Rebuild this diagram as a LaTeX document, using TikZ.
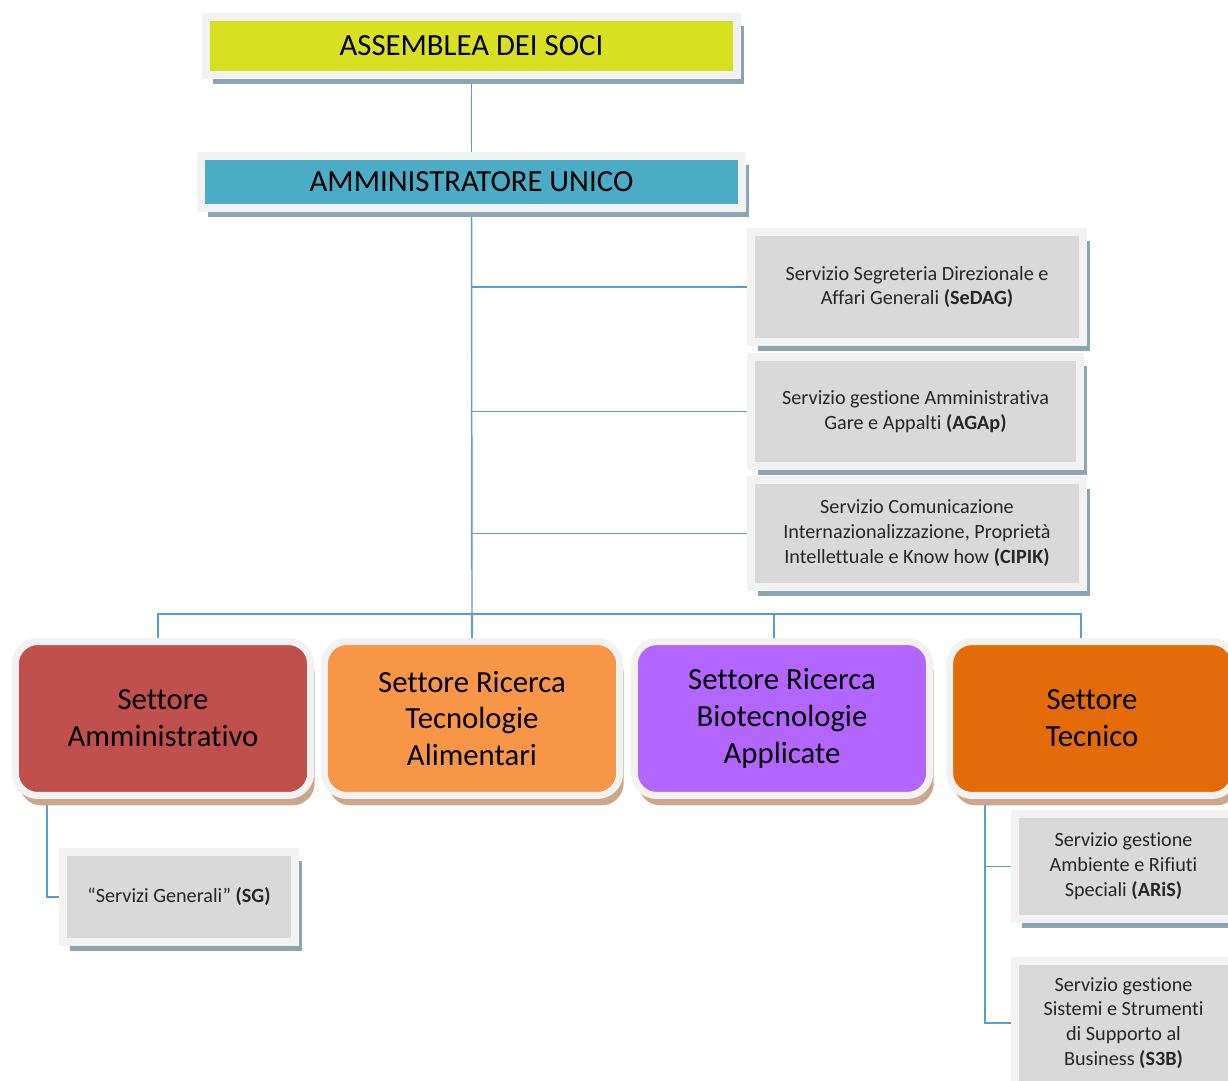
\documentclass[tikz,border=0pt]{standalone}
\usepackage{fontspec}
\setmainfont{Carlito}[Ligatures={NoCommon,NoContextual,NoRare}, Contextuals=NoAlternate]
\usetikzlibrary{shadows,backgrounds}
\definecolor{giallo}{HTML}{D7E021}
\definecolor{ottanio}{HTML}{4BACC6}
\definecolor{rosso}{HTML}{C0504D}
\definecolor{arancio}{HTML}{F79646}
\definecolor{viola}{HTML}{B266FF}
\definecolor{aranciosc}{HTML}{E36C09}
\definecolor{grigio}{HTML}{D9D9D9}
\definecolor{cornice}{HTML}{F2F2F2}
\definecolor{ombrablu}{HTML}{8DA5B0}
\definecolor{ombratan}{HTML}{CDA78D}
\definecolor{linea}{HTML}{5B9BD5}
\begin{document}
\begin{tikzpicture}[x=0.02cm, y=-0.02cm,
             vertice/.style = {draw=cornice, line width=0.16cm, inner sep=0pt, align=center,
                               font=\fontsize{17.5}{21}\selectfont,
                               drop shadow={shadow xshift=0.14cm, shadow yshift=-0.18cm, fill=ombrablu, opacity=1}},
             servizio/.style = {vertice, fill=grigio, text=black!85, font=\fontsize{11.5}{14.2}\selectfont},
             settore/.style = {draw=cornice, line width=0.14cm, rounded corners=0.45cm, inner sep=0pt,
                               align=center, minimum width=5.91cm, minimum height=3.08cm,
                               font=\fontsize{17.5}{21}\selectfont,
                               drop shadow={shadow xshift=0.08cm, shadow yshift=-0.2cm, fill=ombratan, opacity=1}},
             filo/.style = {draw=linea, line width=0.8pt}]
    \useasboundingbox (0,0) rectangle (1228,1081);
    \clip (0,0) rectangle (1228,1081);

    % Vertici
    \node[vertice, fill=giallo, minimum width=10.62cm, minimum height=1.16cm] (soci) at (471.5,46) {ASSEMBLEA DEI SOCI};
    \node[vertice, fill=ottanio, minimum width=10.84cm, minimum height=1.06cm] (au) at (471.5,182) {AMMINISTRATORE UNICO};

    % Servizi in staff
    \node[servizio, minimum width=6.64cm, minimum height=2.2cm] (sedag) at (917,287)
        {Servizio Segreteria Direzionale e\\Affari Generali \textbf{(SeDAG)}};
    \node[servizio, minimum width=6.58cm, minimum height=2.18cm] (agap) at (915.5,411.5)
        {Servizio gestione Amministrativa\\Gare e Appalti \textbf{(AGAp)}};
    \node[servizio, minimum width=6.64cm, minimum height=2.14cm] (cipik) at (917,533.5)
        {Servizio Comunicazione\\Internazionalizzazione, Proprietà\\Intellettuale e Know how \textbf{(CIPIK)}};

    % Settori
    \node[settore, fill=rosso] (setA) at (163,718.5) {Settore\\Amministrativo};
    \node[settore, fill=arancio] (setB) at (472,718.5) {Settore Ricerca\\Tecnologie\\Alimentari};
    \node[settore, fill=viola] (setC) at (782,718.5) {Settore Ricerca\\Biotecnologie\\Applicate};
    \node[settore, fill=aranciosc, minimum width=5.7cm] (setD) at (1092,718.5) {Settore\\Tecnico};

    % Servizi dei settori
    \node[servizio, minimum width=4.64cm, minimum height=1.8cm] (sg) at (179,897)
        {“Servizi Generali” \textbf{(SG)}};
    \node[servizio, minimum width=4.34cm, minimum height=2.1cm] (aris) at (1123.5,866.5)
        {Servizio gestione\\Ambiente e Rifiuti\\Speciali \textbf{(ARiS)}};
    \node[servizio, minimum width=4.34cm, minimum height=2.48cm] (s3b) at (1123.5,1023)
        {Servizio gestione\\Sistemi e Strumenti\\di Supporto al\\Business \textbf{(S3B)}};

    % Collegamenti
    \coordinate (snodo) at (472,614);
    \coordinate (sgtap) at (47,780);
    \coordinate (tectap) at (985,780);
    \begin{scope}[on background layer]
        \draw[filo] (soci) -- (au);
        \draw[filo] (au) -- (snodo);
        \foreach \s in {sedag,agap,cipik}
            \draw[filo] (au |- \s.west) -- (\s.west);
        \draw[filo] ([xshift=-0.1cm]setA.north) |- (snodo) -| ([xshift=-0.22cm]setD.north);
        \draw[filo] (snodo) -- (setB.north);
        \draw[filo] ([xshift=-0.16cm]setC.north) -- ([xshift=-0.16cm]setC.north |- snodo);
        \draw[filo] (sgtap) |- (sg.west);
        \draw[filo] (tectap) |- (aris.west);
        \draw[filo] (tectap) |- (s3b.west);
    \end{scope}
\end{tikzpicture}
\end{document}
